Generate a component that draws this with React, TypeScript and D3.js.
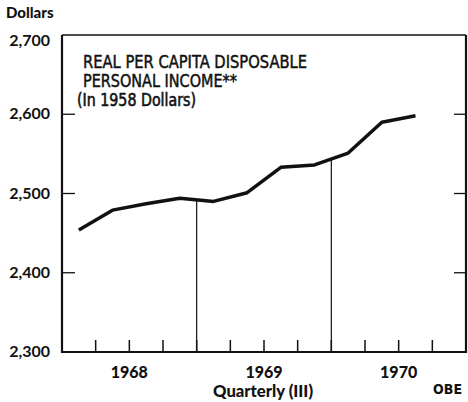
import * as d3 from 'd3';

const periods = ['1968 I', '1968 II', '1968 III', '1968 IV', '1969 I', '1969 II', '1969 III', '1969 IV', '1970 I', '1970 II', '1970 III'];
const income = [2454, 2479, 2487, 2494, 2490, 2501, 2533, 2536, 2551, 2590, 2598];
const years = ['1968', '1969', '1970'];
const yTicks = [2300, 2400, 2500, 2600, 2700];
const titleLines = ['REAL PER CAPITA DISPOSABLE', 'PERSONAL INCOME**'];
const subtitle = '(In 1958 Dollars)';

const W = 468;
const H = 402;
const left = 62;
const right = 466;
const top = 35;
const bottom = 352;

const bold = 'Lato, "DejaVu Sans", sans-serif';
const narrow = '"Liberation Sans Narrow", "DejaVu Sans Condensed", "Roboto Condensed", sans-serif';

export default function App() {
  const nQ = years.length * 4;
  const x = d3.scaleLinear().domain([0, nQ]).range([left, right]);
  const y = d3.scaleLinear().domain([2300, 2700]).range([bottom, top]);

  const pts = income.map((v, i) => ({ q: i + 0.5, v, label: periods[i] }));
  const line = d3
    .line<{ q: number; v: number }>()
    .x((d) => x(d.q))
    .y((d) => y(d.v));

  // value on the line at a quarter boundary (for year separators)
  const valueAt = (q: number) => {
    const i = Math.floor(q - 0.5);
    const t = q - 0.5 - i;
    return income[i] + (income[i + 1] - income[i]) * t;
  };

  const quarterTicks = d3.range(1, nQ);
  const yearBounds = d3.range(1, years.length).map((k) => k * 4);

  return (
    <svg width={W} height={H} style={{ position: 'absolute', left: 0, top: 0, background: '#fff' }}>
      <text x={6} y={18} fontFamily={bold} fontWeight={900} fontSize={15} fill="#111">
        Dollars
      </text>

      {yTicks.map((t) => (
        <text
          key={t}
          x={50}
          y={y(t)}
          dy={t === 2700 ? 11 : 5}
          textAnchor="end"
          fontFamily={bold}
          fontWeight={700}
          fontSize={16}
          fill="#111"
        >
          {d3.format(',')(t)}
        </text>
      ))}

      {/* inner ticks on both sides */}
      {yTicks.slice(1, -1).map((t) => (
        <g key={t} stroke="#111" strokeWidth={1.3}>
          <line x1={left} x2={left + 13} y1={y(t)} y2={y(t)} />
          <line x1={right - 12} x2={right} y1={y(t)} y2={y(t)} />
        </g>
      ))}

      {quarterTicks.map((q) => (
        <line key={q} x1={x(q)} x2={x(q)} y1={bottom} y2={bottom - 12} stroke="#111" strokeWidth={1.5} />
      ))}

      {yearBounds.map((q) => (
        <line key={q} x1={x(q)} x2={x(q)} y1={y(valueAt(q))} y2={bottom} stroke="#111" strokeWidth={1.2} />
      ))}

      <path d={line(pts) ?? ''} fill="none" stroke="#111" strokeWidth={3.5} strokeLinejoin="round" />

      {/* frame */}
      <line x1={left} x2={right} y1={top} y2={top} stroke="#111" strokeWidth={1.6} />
      <line x1={left} x2={right + 1} y1={bottom} y2={bottom} stroke="#111" strokeWidth={2.2} />
      <line x1={left} x2={left} y1={top} y2={bottom + 1} stroke="#111" strokeWidth={2.2} />
      <line x1={right} x2={right} y1={top} y2={bottom + 1} stroke="#111" strokeWidth={2.2} />

      {years.map((yr, i) => (
        <text
          key={yr}
          x={x(i * 4 + 2)}
          y={378}
          textAnchor="middle"
          fontFamily={bold}
          fontWeight={900}
          fontSize={16}
          fill="#111"
        >
          {yr}
        </text>
      ))}

      <text x={263} y={397} textAnchor="middle" fontFamily={bold} fontWeight={900} fontSize={16} fill="#111" textLength={100} lengthAdjust="spacingAndGlyphs">
        Quarterly (III)
      </text>
      <text x={462} y={394} textAnchor="end" fontFamily={narrow} fontWeight={700} fontSize={14} fill="#111">
        OBE
      </text>

      {titleLines.map((s, i) => (
        <text
          key={s}
          x={83}
          y={68 + i * 18.5}
          fontFamily={narrow}
          fontSize={17}
          fill="#111"
          stroke="#111"
          strokeWidth={0.45}
          textLength={i === 0 ? 224 : 154}
          lengthAdjust="spacingAndGlyphs"
        >
          {s}
        </text>
      ))}
      <text
        x={77}
        y={106}
        fontFamily={narrow}
        fontSize={17}
        fill="#111"
        stroke="#111"
        strokeWidth={0.55}
        textLength={119}
        lengthAdjust="spacingAndGlyphs"
      >
        {subtitle}
      </text>
    </svg>
  );
}
